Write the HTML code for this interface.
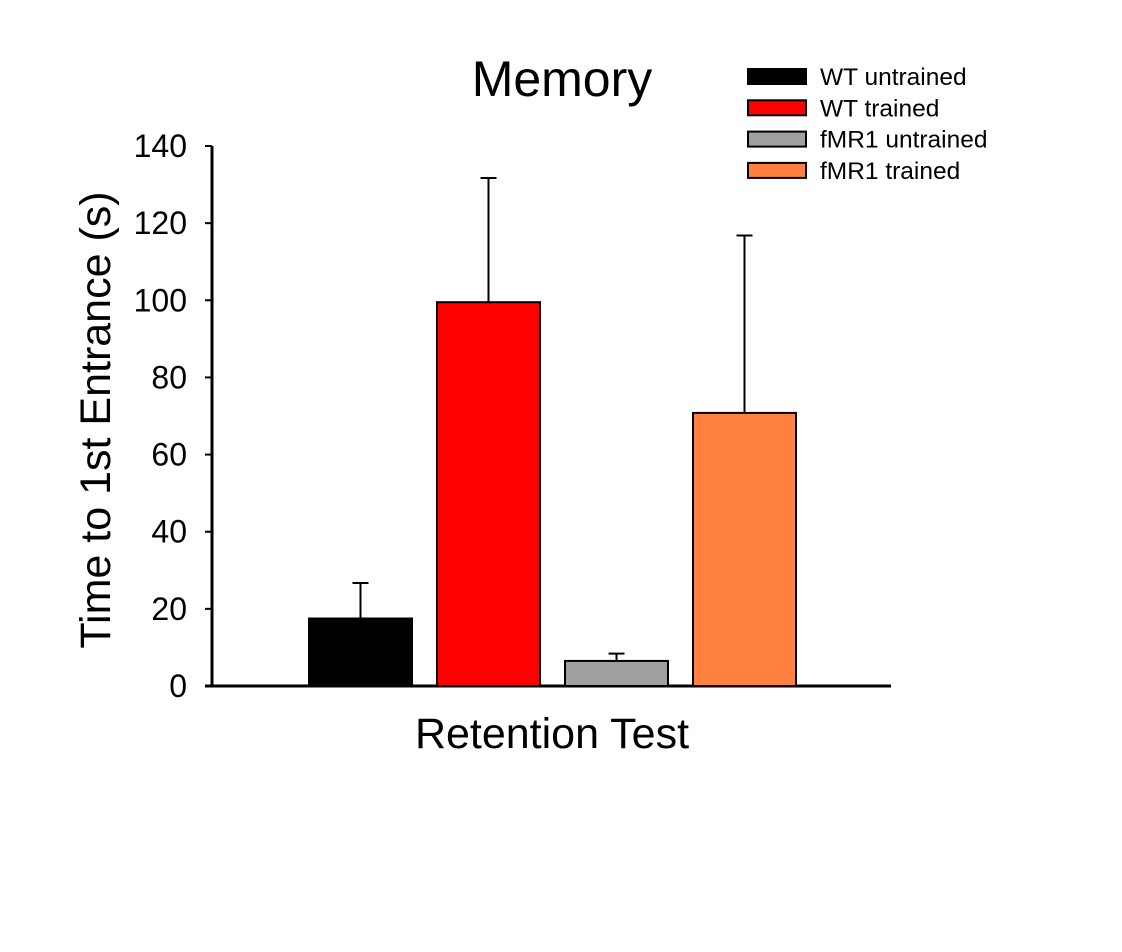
<!DOCTYPE html>
<html><head><meta charset="utf-8"><style>
body{margin:0;background:#fff}
svg text{font-family:"Liberation Sans",Arial,sans-serif;fill:#000}
</style></head><body>
<svg id="chart" width="1122" height="947">
<text x="562" y="96" font-size="50" text-anchor="middle">Memory</text>
<text x="552" y="748" font-size="43" text-anchor="middle">Retention Test</text>
<text transform="translate(110,420) rotate(-90)" font-size="43" text-anchor="middle">Time to 1st Entrance (s)</text>
<g id="axes"></g><g id="bars"></g><g id="legend"></g>
</svg>
<script>
const categories=["WT untrained","WT trained","fMR1 untrained","fMR1 trained"];
const means=[17.5,99.5,6.5,70.8];
const errors=[9.2,32.2,1.9,46];
const colors=["#000000","#ff0000","#a0a0a0","#ff8040"];
const yTicks=[0,20,40,60,80,100,120,140];
const NS="http://www.w3.org/2000/svg";
const y0=686,ppu=540/140;
const y=v=>y0-v*ppu;
const x=i=>309+i*128;
const bw=103;
function mk(t,a,p){const e=document.createElementNS(NS,t);for(const k in a)e.setAttribute(k,a[k]);p.appendChild(e);return e;}
const ax=document.getElementById('axes');
const ya=mk('line',{x1:212,y1:y(140),x2:212,y2:y0+1,stroke:'#000','stroke-width':3},ax);


const xa=mk('line',{x1:205,y1:y0,x2:891,y2:y0,stroke:'#000','stroke-width':3},ax);


yTicks.forEach(v=>{
 const t=mk('line',{x1:205,y1:y(v),x2:212,y2:y(v),stroke:'#000','stroke-width':2},ax);
 
 
 const l=mk('text',{x:187,y:y(v)+11,'font-size':32,'text-anchor':'end'},ax);
 l.textContent=v;
 
 
});
const bg=document.getElementById('bars');
categories.forEach((c,i)=>{
 const cx=x(i)+bw/2, top=y(means[i]), et=y(means[i]+errors[i]);
 const e1=mk('line',{x1:cx,y1:top,x2:cx,y2:et,stroke:'#000','stroke-width':2},bg);
 
 
 const e2=mk('line',{x1:cx-8,y1:et,x2:cx+8,y2:et,stroke:'#000','stroke-width':2},bg);
 
 
 const r=mk('rect',{x:x(i),y:top,width:bw,height:y0-top,fill:colors[i],stroke:'#000','stroke-width':2},bg);
 
 
});
const lg=document.getElementById('legend');
categories.forEach((c,i)=>{
 const yy=69+i*31.3;
 const s=mk('rect',{x:748,y:yy,width:58,height:15,fill:colors[i],stroke:'#000','stroke-width':2},lg);
 
 
 const t=mk('text',{x:820,y:yy+16,'font-size':24.5},lg);
 t.textContent=c;
 
 
});
</script>
</body></html>
